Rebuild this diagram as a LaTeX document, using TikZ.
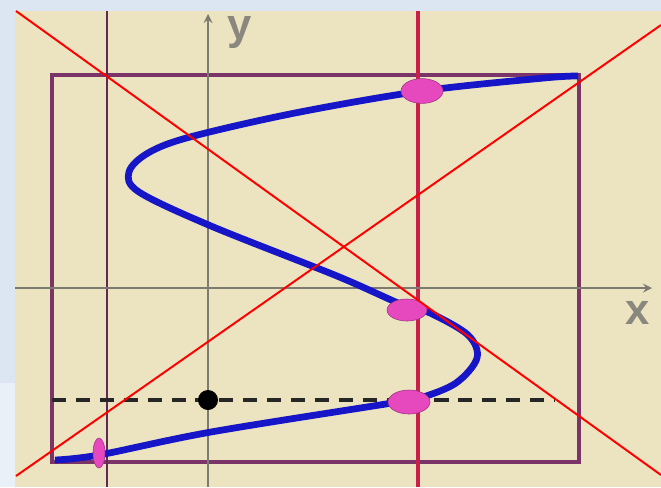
\documentclass[tikz,border=0pt]{standalone}
\usepackage{fontspec}
\setmainfont{Liberation Sans}
\usetikzlibrary{shapes.geometric}
\definecolor{bgblue}{RGB}{220,230,242}
\definecolor{paper}{RGB}{236,228,192}
\definecolor{frame}{RGB}{122,52,104}
\definecolor{crimson}{RGB}{200,32,72}
\definecolor{axisgray}{RGB}{125,122,112}
\definecolor{curveblue}{RGB}{22,22,200}
\definecolor{hit}{RGB}{230,72,190}

\begin{document}
\begin{tikzpicture}[x=0.025cm, y=-0.025cm, >=stealth, every node/.style={font=\fontsize{31}{33}\selectfont\bfseries}]
  \useasboundingbox (0,0) rectangle (661,487);
  % background
  \fill[bgblue] (0,0) rectangle (661,487);
  \fill[white!40!bgblue] (0,383) rectangle (15,487);
  \fill[paper] (15,11) rectangle (661,487);
  % frame and vertical lines
  \draw[frame, line width=2.7pt] (52,75) rectangle (579,462);
  \draw[frame!80!black, line width=1.5pt] (107,11) -- (107,487);
  \draw[crimson, line width=2.2pt] (418,11) -- (418,487);
  % axes
  \coordinate (xs) at (15,288);
  \coordinate (xe) at (652,288);
  \coordinate (ys) at (208,487);
  \coordinate (ye) at (208,14);
  \draw[axisgray, line width=1.8pt, ->] (xs) -- (xe);
  \draw[axisgray, line width=1.8pt, ->] (ys) -- (ye);
  \node[text=axisgray!90] (xl) at (638,313) {x};
  \node[text=axisgray!90] (yl) at (240,33) {y};
  % level line
  \coordinate (ls) at (52,400);
  \coordinate (le) at (555,400);
  \draw[black!85, line width=2.8pt, dash pattern=on 10pt off 7pt] (ls) -- (le);
  \node[circle, fill=black, inner sep=0, minimum size=0.5cm] (pt) at (208,400) {};
  % curve
  \draw[curveblue, line width=4.8pt, line join=round] plot[smooth, tension=0.55] coordinates {
    (55,460) (99,455) (211,432) (392,403) (420,398) (456,383) (477,358)
    (468,335) (430,313) (405,306) (337,276) (211,226) (139,192) (129,172)
    (148,153) (190,137) (295,113) (422,91) (544,78) (578,76)};
  % crossings
  \node[ellipse, fill=hit, draw=hit!70!black, thin, minimum width=1.05cm, minimum height=0.62cm, inner sep=0] (c1) at (422,91) {};
  \node[ellipse, fill=hit, draw=hit!70!black, thin, minimum width=1.0cm, minimum height=0.55cm, inner sep=0] (c2) at (407,310) {};
  \node[ellipse, fill=hit, draw=hit!70!black, thin, minimum width=1.05cm, minimum height=0.6cm, inner sep=0] (c3) at (409,402) {};
  \node[ellipse, fill=hit, draw=hit!70!black, thin, minimum width=0.3cm, minimum height=0.75cm, inner sep=0] (c4) at (99,453) {};
  % cross
  \coordinate (a1) at (16,11);
  \coordinate (a2) at (661,475);
  \coordinate (b1) at (16,476);
  \coordinate (b2) at (661,25);
  \draw[red, line width=1.4pt] (a1) -- (a2);
  \draw[red, line width=1.4pt] (b1) -- (b2);
\end{tikzpicture}
\end{document}
